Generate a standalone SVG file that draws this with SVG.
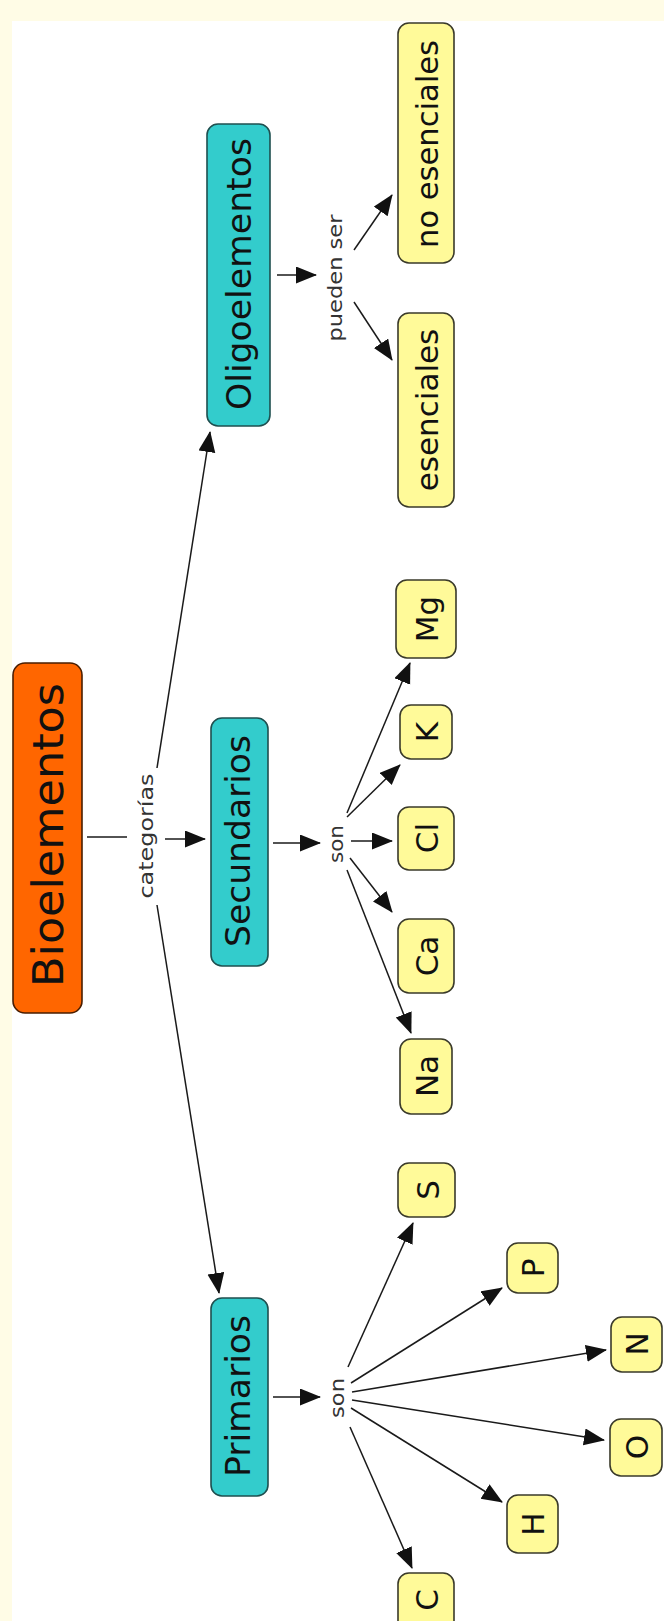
<svg xmlns="http://www.w3.org/2000/svg" width="664" height="1621" viewBox="0 0 664 1621">
  <defs>
    <marker id="arrow" markerUnits="userSpaceOnUse" markerWidth="22" markerHeight="18" refX="20" refY="8.5" orient="auto">
      <path d="M0,0 L21,8.5 L0,17 Z" fill="#111"/>
    </marker>
    <style>
      .root { fill: #FF6600; stroke: #4a1e00; stroke-width: 1.6; }
      .cat { fill: #33CCCC; stroke: #1f4f4f; stroke-width: 1.6; }
      .elem { fill: #FFFA99; stroke: #3a3a2a; stroke-width: 1.6; }
      .lbl { font-family: "DejaVu Sans", Verdana, sans-serif; fill: #111; text-anchor: middle; }
      .link { font-family: "DejaVu Sans", Verdana, sans-serif; fill: #333; text-anchor: middle; font-size: 20px; }
      .conn line { stroke: #1a1a1a; stroke-width: 1.5; fill: none; }
      .conn line.arr { marker-end: url(#arrow); }
    </style>
  </defs>

  <!-- page background and white canvas -->
  <rect x="0" y="0" width="664" height="1621" fill="#FFFCE6"/>
  <rect x="12" y="21" width="652" height="1600" fill="#FFFFFF"/>

  <!-- connectors -->
  <g id="connectors" class="conn">
    <line x1="87" y1="837" x2="127" y2="837"/>
    <line class="arr" x1="157" y1="768" x2="210" y2="432"/>
    <line class="arr" x1="165" y1="839" x2="205" y2="839"/>
    <line class="arr" x1="157" y1="905" x2="219" y2="1293"/>

    <line class="arr" x1="277" y1="275" x2="316" y2="275"/>
    <line class="arr" x1="354" y1="250" x2="392" y2="195"/>
    <line class="arr" x1="354" y1="302" x2="392" y2="360"/>

    <line class="arr" x1="273" y1="843" x2="320" y2="843"/>
    <line class="arr" x1="351" y1="841" x2="392" y2="841"/>
    <line class="arr" x1="347" y1="817" x2="400" y2="765"/>
    <line class="arr" x1="347" y1="813" x2="410" y2="663"/>
    <line class="arr" x1="350" y1="858" x2="392" y2="912"/>
    <line class="arr" x1="347" y1="870" x2="411" y2="1033"/>

    <line class="arr" x1="273" y1="1397" x2="320" y2="1397"/>
    <line class="arr" x1="348" y1="1367" x2="413" y2="1223"/>
    <line class="arr" x1="351" y1="1383" x2="502" y2="1288"/>
    <line class="arr" x1="352" y1="1392" x2="606" y2="1350"/>
    <line class="arr" x1="352" y1="1400" x2="604" y2="1440"/>
    <line class="arr" x1="351" y1="1408" x2="502" y2="1502"/>
    <line class="arr" x1="350" y1="1427" x2="412" y2="1568"/>
  </g>

  <!-- linking phrases -->
  <g id="link-categorias">
    <text class="link" transform="translate(153,836) rotate(-90)" textLength="125" lengthAdjust="spacingAndGlyphs">categorías</text>
  </g>
  <g id="link-pueden-ser">
    <text class="link" transform="translate(342,278) rotate(-90)" textLength="127" lengthAdjust="spacingAndGlyphs">pueden ser</text>
  </g>
  <g id="link-son-secundarios">
    <text class="link" transform="translate(343,844) rotate(-90)" font-size="22" textLength="38" lengthAdjust="spacingAndGlyphs">son</text>
  </g>
  <g id="link-son-primarios">
    <text class="link" transform="translate(344,1398) rotate(-90)" font-size="22" textLength="40" lengthAdjust="spacingAndGlyphs">son</text>
  </g>

  <!-- root concept -->
  <g id="node-bioelementos">
    <rect class="root" x="13" y="663" width="69" height="350" rx="12"/>
    <text class="lbl" transform="translate(63,835) rotate(-90)" font-size="43" textLength="304" lengthAdjust="spacingAndGlyphs">Bioelementos</text>
  </g>

  <!-- categories -->
  <g id="node-oligoelementos">
    <rect class="cat" x="207" y="124" width="63" height="302" rx="11"/>
    <text class="lbl" transform="translate(251,274) rotate(-90)" font-size="34" textLength="272" lengthAdjust="spacingAndGlyphs">Oligoelementos</text>
  </g>
  <g id="node-secundarios">
    <rect class="cat" x="211" y="718" width="57" height="248" rx="11"/>
    <text class="lbl" transform="translate(250,841) rotate(-90)" font-size="34" textLength="212" lengthAdjust="spacingAndGlyphs">Secundarios</text>
  </g>
  <g id="node-primarios">
    <rect class="cat" x="211" y="1298" width="57" height="198" rx="11"/>
    <text class="lbl" transform="translate(250,1396) rotate(-90)" font-size="34" textLength="162" lengthAdjust="spacingAndGlyphs">Primarios</text>
  </g>

  <!-- oligoelement kinds -->
  <g id="node-no-esenciales">
    <rect class="elem" x="398" y="23" width="56" height="240" rx="11"/>
    <text class="lbl" transform="translate(438,144) rotate(-90)" font-size="31" textLength="208" lengthAdjust="spacingAndGlyphs">no esenciales</text>
  </g>
  <g id="node-esenciales">
    <rect class="elem" x="398" y="313" width="56" height="194" rx="11"/>
    <text class="lbl" transform="translate(438,410) rotate(-90)" font-size="31">esenciales</text>
  </g>

  <!-- secondary elements -->
  <g id="node-mg">
    <rect class="elem" x="396" y="580" width="60" height="78" rx="11"/>
    <text class="lbl" transform="translate(438,619) rotate(-90)" font-size="31">Mg</text>
  </g>
  <g id="node-k">
    <rect class="elem" x="400" y="705" width="52" height="54" rx="11"/>
    <text class="lbl" transform="translate(438,732) rotate(-90)" font-size="31">K</text>
  </g>
  <g id="node-cl">
    <rect class="elem" x="398" y="807" width="56" height="63" rx="11"/>
    <text class="lbl" transform="translate(438,838) rotate(-90)" font-size="31">Cl</text>
  </g>
  <g id="node-ca">
    <rect class="elem" x="398" y="919" width="56" height="74" rx="11"/>
    <text class="lbl" transform="translate(438,956) rotate(-90)" font-size="31">Ca</text>
  </g>
  <g id="node-na">
    <rect class="elem" x="400" y="1039" width="52" height="75" rx="11"/>
    <text class="lbl" transform="translate(438,1076) rotate(-90)" font-size="31">Na</text>
  </g>

  <!-- primary elements -->
  <g id="node-s">
    <rect class="elem" x="398" y="1163" width="57" height="54" rx="11"/>
    <text class="lbl" transform="translate(439,1190) rotate(-90)" font-size="31">S</text>
  </g>
  <g id="node-p">
    <rect class="elem" x="507" y="1243" width="51" height="50" rx="11"/>
    <text class="lbl" transform="translate(544,1268) rotate(-90)" font-size="31">P</text>
  </g>
  <g id="node-n">
    <rect class="elem" x="611" y="1317" width="51" height="55" rx="11"/>
    <text class="lbl" transform="translate(648,1344) rotate(-90)" font-size="31">N</text>
  </g>
  <g id="node-o">
    <rect class="elem" x="610" y="1419" width="52" height="57" rx="11"/>
    <text class="lbl" transform="translate(648,1447) rotate(-90)" font-size="31">O</text>
  </g>
  <g id="node-h">
    <rect class="elem" x="507" y="1495" width="51" height="58" rx="11"/>
    <text class="lbl" transform="translate(544,1524) rotate(-90)" font-size="31">H</text>
  </g>
  <g id="node-c">
    <rect class="elem" x="398" y="1573" width="56" height="62" rx="11"/>
    <text class="lbl" transform="translate(438,1600) rotate(-90)" font-size="31">C</text>
  </g>
</svg>
